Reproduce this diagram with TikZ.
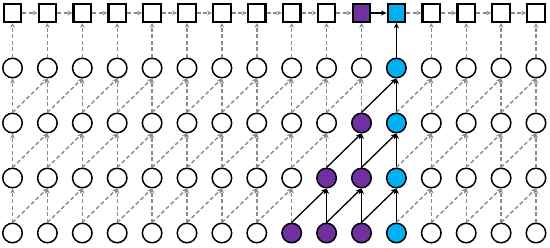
\documentclass[tikz,border=0pt]{standalone}
\usetikzlibrary{arrows.meta}
\definecolor{vpurple}{HTML}{7030A0}
\definecolor{vcyan}{HTML}{00B0F0}
\definecolor{dgray}{HTML}{8A8A8A}
\newcommand\mycode[2]{\pgfmathtruncatemacro\k{(#1==11)*2 + ((#2==0)&&(#1==10)) + ((#1>=12-#2)&&(#1<=10))}}
\newcommand\edgestyle[4]{%
  \mycode{#1}{#2}\let\ka\k
  \mycode{#3}{#4}\let\kb\k
  \pgfmathtruncatemacro\solid{(\ka>0)&&(\kb>0)}%
  \ifnum\solid=1 \def\es{sedge}\else\def\es{dedge}\fi}
\begin{document}
\begin{tikzpicture}[x=1pt,y=-1pt,
  cnode/.style={circle,draw=black,line width=1.5pt,minimum size=19.5pt,inner sep=0pt},
  snode/.style={rectangle,draw=black,line width=2.2pt,minimum size=17.5pt,inner sep=0pt},
  dedge/.style={draw=dgray,line width=1.4pt,dash pattern=on 4pt off 2.5pt,-{Stealth[length=5pt,width=4.5pt]}},
  sedge/.style={draw=black,line width=1.3pt,-{Stealth[length=5.5pt,width=5pt]}}]
\useasboundingbox (0,0) rectangle (550,247);
% nodes
\foreach \i in {0,...,15}{
  \pgfmathsetmacro\x{12.5+34.9*\i}
  \mycode{\i}{0}
  \edef\fc{\ifcase\k white\or vpurple\or vcyan\fi}
  \node[snode,fill=\fc] (n\i-0) at (\x,13) {};
  \foreach \r in {1,...,4}{
    \pgfmathsetmacro\y{13+55*\r}
    \mycode{\i}{\r}
    \edef\fc{\ifcase\k white\or vpurple\or vcyan\fi}
    \node[cnode,fill=\fc] (n\i-\r) at (\x,\y) {};
  }
}
% horizontal edges between squares
\foreach \i in {0,...,14}{
  \pgfmathtruncatemacro\ii{\i+1}
  \edgestyle{\i}{0}{\ii}{0}
  \draw[\es] (n\i-0.east) -- (n\ii-0.west);
}
% vertical edges
\foreach \i in {0,...,15}{
  \foreach \r in {1,...,4}{
    \pgfmathtruncatemacro\rr{\r-1}
    \edgestyle{\i}{\r}{\i}{\rr}
    \draw[\es] (n\i-\r.north) -- (n\i-\rr.south);
  }
}
% diagonal edges
\foreach \i in {0,...,14}{
  \pgfmathtruncatemacro\ii{\i+1}
  \foreach \r in {2,...,4}{
    \pgfmathtruncatemacro\rr{\r-1}
    \edgestyle{\i}{\r}{\ii}{\rr}
    \draw[\es] (n\i-\r.north) -- (n\ii-\rr.south);
  }
}
\end{tikzpicture}
\end{document}
